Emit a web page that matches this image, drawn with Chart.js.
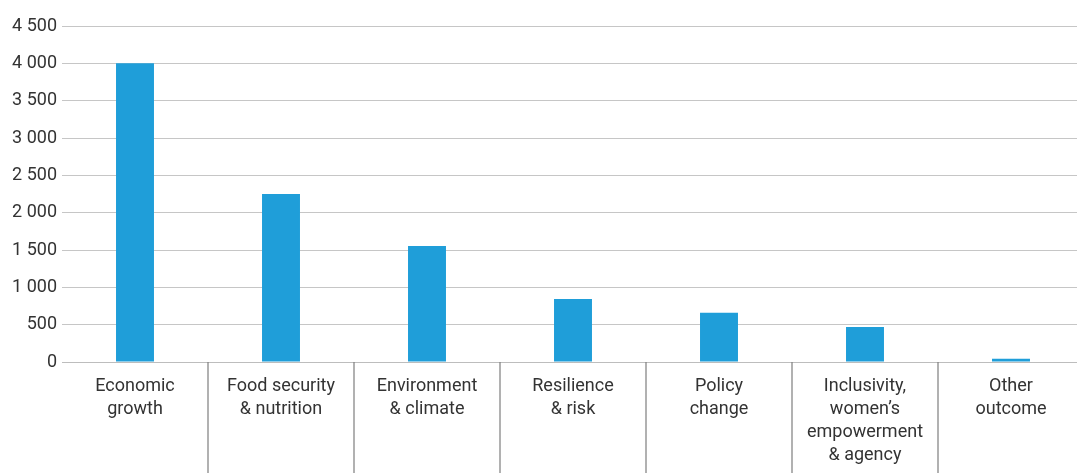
<!DOCTYPE html>
<html>
<head>
<meta charset="utf-8">
<title>Outcomes</title>
<script src="https://cdn.jsdelivr.net/npm/chart.js@4"></script>
<style>
  html, body { margin: 0; padding: 0; background: #fff; overflow: hidden; }
  #wrap { width: 1084px; height: 473px; }
</style>
</head>
<body>
<div id="wrap"><canvas id="outcome-chart"></canvas></div>
<script>
// --- Data ---
const categories = [
    ['Economic', 'growth'],
    ['Food security', '& nutrition'],
    ['Environment', '& climate'],
    ['Resilience', '& risk'],
    ['Policy', 'change'],
    ['Inclusivity,', 'women\u2019s', 'empowerment', '& agency'],
    ['Other', 'outcome']
];
const outcomeCounts = [4000, 2250, 1555, 845, 660, 470, 45];
const yTicks = [0, 500, 1000, 1500, 2000, 2500, 3000, 3500, 4000, 4500];

const textColor = '#333333';
const barColor = '#1f9ed9';

function formatThousands(v) {
    return String(v).replace(/\B(?=(\d{3})+(?!\d))/g, ' ');
}

// vertical separators between the category labels, below the plot
const categoryDividers = {
    id: 'categoryDividers',
    afterDraw(chart) {
        const { ctx, chartArea, scales } = chart;
        const x = scales.x;
        ctx.save();
        ctx.strokeStyle = '#7d7d7d';
        ctx.lineWidth = 1.2;
        for (let i = 0; i < categories.length - 1; i++) {
            const px = (x.getPixelForValue(i) + x.getPixelForValue(i + 1)) / 2;
            ctx.beginPath();
            ctx.moveTo(px, chartArea.bottom);
            ctx.lineTo(px, chart.height);
            ctx.stroke();
        }
        ctx.restore();
    }
};

const ctx = document.getElementById('outcome-chart').getContext('2d');
new Chart(ctx, {
    type: 'bar',
    data: {
        labels: categories,
        datasets: [{
            label: 'Outcomes',
            data: outcomeCounts,
            backgroundColor: barColor,
            barPercentage: 0.26,
            categoryPercentage: 1
        }]
    },
    options: {
        responsive: true,
        maintainAspectRatio: false,
        animation: false,
        layout: { padding: { top: 26, right: 0, left: 0, bottom: 0 } },
        plugins: {
            legend: { display: false },
            tooltip: { enabled: false }
        },
        scales: {
            x: {
                border: { display: true, color: '#bdbdbd', width: 1 },
                grid: { display: false },
                ticks: {
                    color: textColor,
                    font: { family: 'Roboto', size: 18, lineHeight: 1.28 },
                    padding: 5,
                    maxRotation: 0,
                    autoSkip: false
                },
                afterFit(scale) { scale.height = 111; }
            },
            y: {
                min: 0,
                max: 4500,
                border: { display: false },
                grid: { color: '#c6c6c6', lineWidth: 1, drawTicks: false },
                afterBuildTicks(scale) {
                    scale.ticks = yTicks.map(v => ({ value: v }));
                },
                ticks: {
                    color: textColor,
                    font: { family: 'Roboto', size: 18 },
                    padding: 5,
                    callback: v => formatThousands(v)
                },
                afterFit(scale) { scale.width = 62; }
            }
        }
    },
    plugins: [categoryDividers]
});
</script>
</body>
</html>
